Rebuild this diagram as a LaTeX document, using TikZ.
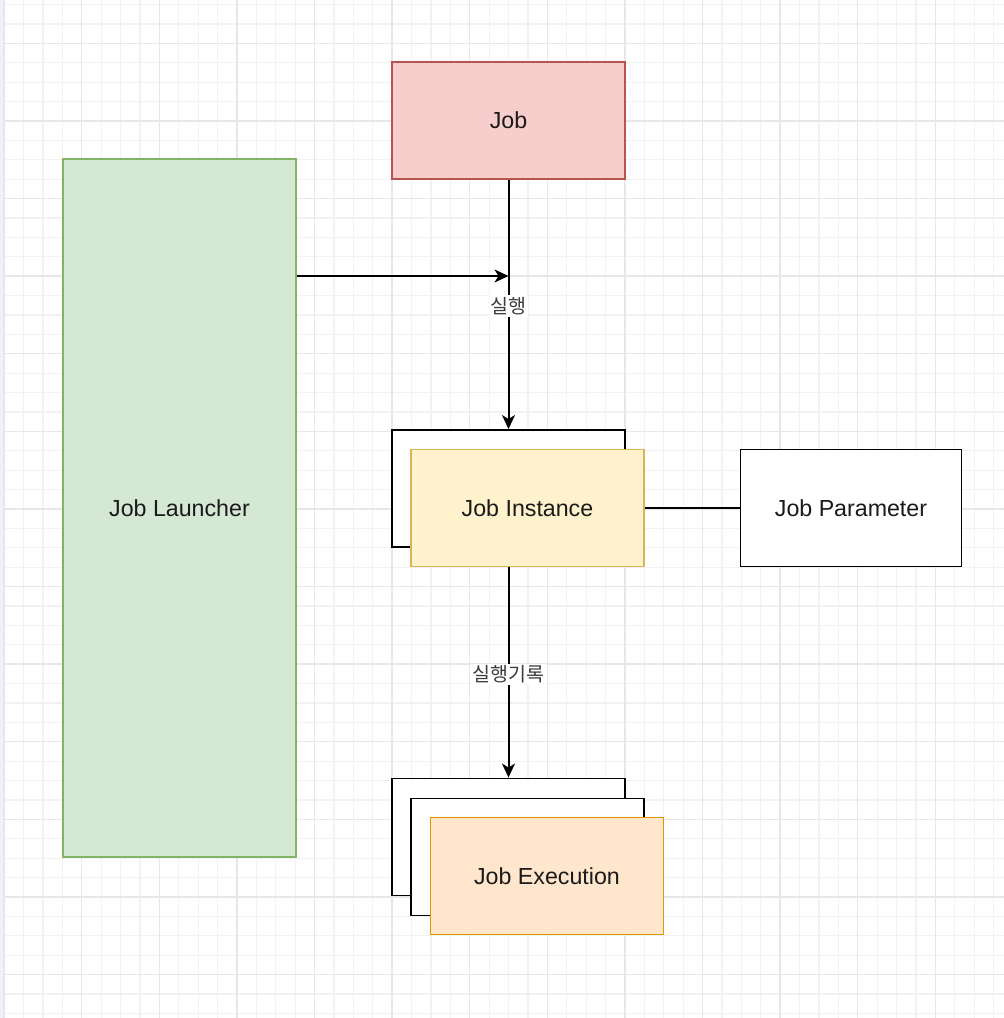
\documentclass[tikz,border=0pt]{standalone}
\usepackage{fontspec}
\setmainfont{Liberation Sans}
\newfontfamily\krfont{Noto Sans CJK KR}
\usetikzlibrary{arrows.meta}
\definecolor{gridminor}{HTML}{F2F2F2}
\definecolor{gridmajor}{HTML}{E7E7E7}
\definecolor{stripblue}{HTML}{EDF2FA}
\definecolor{jobfill}{HTML}{F8CECC}
\definecolor{jobdraw}{HTML}{B85450}
\definecolor{lfill}{HTML}{D5E8D4}
\definecolor{ldraw}{HTML}{82B366}
\definecolor{ifill}{HTML}{FFF2CC}
\definecolor{idraw}{HTML}{D6B656}
\definecolor{efill}{HTML}{FFE6CC}
\definecolor{edraw}{HTML}{D79B00}
\definecolor{txt}{HTML}{1A1A1A}
\tikzset{
  box/.style={draw, line width=1.9pt, minimum width=233pt, minimum height=117pt, inner sep=0pt, font=\fontsize{23.2}{28}\selectfont, text=txt},
  plainbox/.style={box, fill=white, draw=black},
  conn/.style={line width=2pt, draw=black},
  arr/.style={conn, -{Stealth[length=14pt,width=13pt,inset=4pt]}},
  lbl/.style={fill=white, inner sep=2pt, font=\krfont\fontsize{19.5}{23}\selectfont, text=txt!85!white}
}
\begin{document}
\begin{tikzpicture}[x=1pt,y=-1pt]
\useasboundingbox (0,0) rectangle (1004,1018);
\fill[white] (0,0) rectangle (1004,1018);
\fill[stripblue] (0,0) rectangle (4,1018);
% grid
\foreach \i in {0,...,51} {
  \draw[gridminor, line width=1.2pt] ({4.1+19.4*\i},0) -- ({4.1+19.4*\i},1018);
}
\foreach \j in {0,...,52} {
  \draw[gridminor, line width=1.2pt] (4,{4.5+19.4*\j}) -- (1004,{4.5+19.4*\j});
}
\foreach \i in {0,...,12} {
  \draw[gridmajor, line width=1.4pt] ({4.1+77.6*\i},0) -- ({4.1+77.6*\i},1018);
}
\foreach \j in {0,...,13} {
  \draw[gridmajor, line width=1.4pt] (4,{43.3+77.6*\j}) -- (1004,{43.3+77.6*\j});
}
% nodes
\node[box, fill=jobfill, draw=jobdraw] (job) at (508.5,120.5) {Job};
\node[box, fill=lfill, draw=ldraw, minimum height=698pt] (launcher) at (179.5,508) {Job Launcher};
\node[plainbox] (inst1) at (508.5,488.5) {};
\node[box, fill=ifill, draw=idraw] (inst) at (527.5,508) {Job Instance};
\node[plainbox, minimum width=221pt] (param) at (851,508) {Job Parameter};
\node[plainbox] (exec1) at (508.5,837) {};
\node[plainbox] (exec2) at (527.5,857) {};
\node[box, fill=efill, draw=edraw] (exec) at (547,876) {Job Execution};
% connectors
\coordinate (hit) at (508.5,276);
\draw[arr] (job.south) -- node[lbl, pos=0.505] {실행} (inst1.north);
\draw[arr] (launcher.east |- hit) -- (hit);
\draw[arr] (inst.south -| inst1.north) -- node[lbl, pos=0.51] {실행기록} (exec1.north);
\draw[conn] (inst.east) -- (param.west);
\end{tikzpicture}
\end{document}
